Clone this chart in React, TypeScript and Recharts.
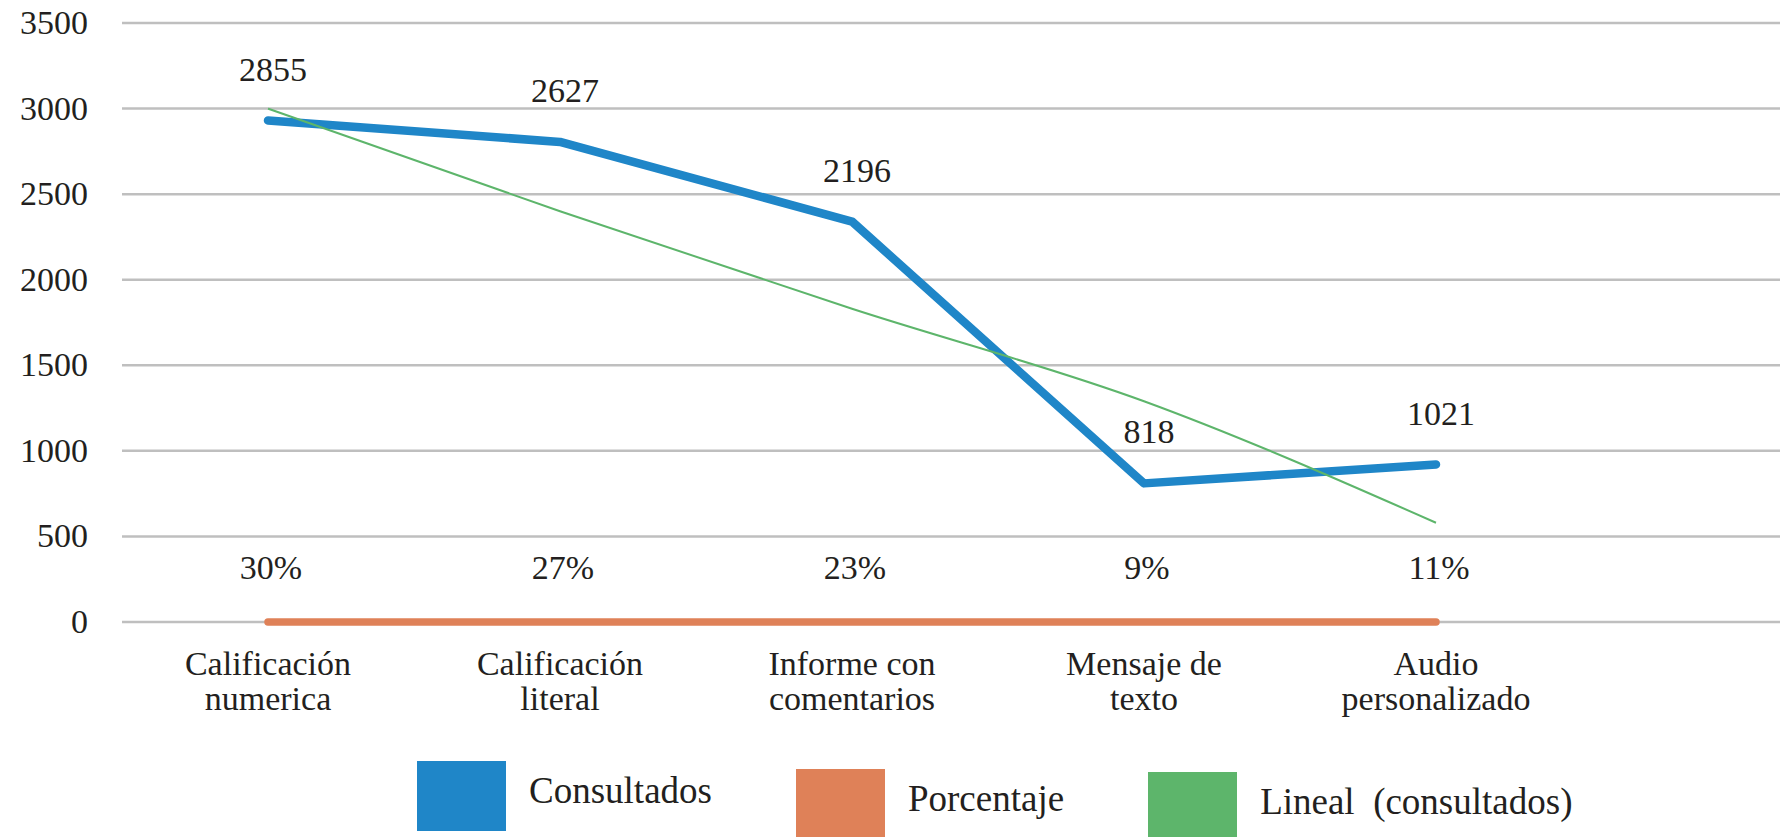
import React from 'react';
import { LineChart, Line, XAxis, YAxis, CartesianGrid, LabelList } from 'recharts';

const categorias = [
  'Calificación\nnumerica',
  'Calificación\nliteral',
  'Informe con\ncomentarios',
  'Mensaje de\ntexto',
  'Audio\npersonalizado',
];
const consultados = [2930, 2805, 2340, 810, 920];
// numbers printed above the blue line
const etiquetasConsultados = [2855, 2627, 2196, 818, 1021];
const porcentaje = [0.3, 0.27, 0.23, 0.09, 0.11];
const lineal = [3000, 2400, 1830, 1290, 580];
const yTicks = [0, 500, 1000, 1500, 2000, 2500, 3000, 3500];

const series = [
  { key: 'consultados', name: 'Consultados', color: '#1f86c8' },
  { key: 'porcentaje', name: 'Porcentaje', color: '#df8158' },
  { key: 'lineal', name: 'Lineal  (consultados)', color: '#5db56b' },
];

const data = categorias.map((c, i) => ({
  categoria: c,
  consultados: consultados[i],
  etiqueta: etiquetasConsultados[i],
  porcentaje: porcentaje[i],
  lineal: lineal[i],
}));

const TEXT = '#231f20';
const FONT = '"Liberation Serif", "Times New Roman", serif';
const textStyle = { fontFamily: FONT, fontSize: 34, fill: TEXT };
const legendShift = [0, 8, 11];

function punto(p: any) {
  if (typeof p.x === 'number' && typeof p.y === 'number') return { x: p.x, y: p.y };
  const vb = p.viewBox || {};
  return { x: (vb.x ?? 0) + (vb.width ?? 0) / 2, y: (vb.y ?? 0) + (vb.height ?? 0) / 2 };
}

function CategoriaTick({ x, y, payload }: any) {
  const lineas = String(payload.value).split('\n');
  return (
    <text x={x} y={y} textAnchor="middle" style={textStyle}>
      {lineas.map((l, i) => (
        <tspan key={i} x={x} dy={i === 0 ? 53 : 35}>
          {l}
        </tspan>
      ))}
    </text>
  );
}

function ValorTick({ x, y, payload }: any) {
  return (
    <text x={x} y={y + 11} textAnchor="end" style={textStyle}>
      {payload.value}
    </text>
  );
}

const etiquetaConsultados = (props: any) => {
  const { x, y } = punto(props);
  return (
    <text x={x + 5} y={y - 40} textAnchor="middle" style={textStyle}>
      {props.value}
    </text>
  );
};

const etiquetaPorcentaje = (props: any) => {
  const { x, y } = punto(props);
  return (
    <text x={x + 3} y={y - 43} textAnchor="middle" style={textStyle}>
      {Math.round(Number(props.value) * 100) + '%'}
    </text>
  );
};

export default function App() {
  return (
    <div
      style={{
        position: 'absolute',
        left: 0,
        top: 0,
        width: 1780,
        height: 837,
        overflow: 'hidden',
        background: '#fff',
        fontFamily: FONT,
        color: TEXT,
      }}
    >
      <LineChart
        width={1780}
        height={837}
        data={data}
        margin={{ top: 23, right: 0, bottom: 105, left: 0 }}
      >
        <CartesianGrid vertical={false} stroke="#bfbfbf" strokeWidth={2.5} />
        <XAxis
          dataKey="categoria"
          height={110}
          interval={0}
          axisLine={false}
          tickLine={false}
          tickSize={0}
          tickMargin={0}
          padding={{ left: 146, right: 344 }}
          tick={<CategoriaTick />}
        />
        <YAxis
          width={122}
          domain={[0, 3500]}
          ticks={yTicks}
          axisLine={false}
          tickLine={false}
          tickSize={0}
          tickMargin={34}
          tick={<ValorTick />}
        />
        <Line
          dataKey="porcentaje"
          stroke={series[1].color}
          strokeWidth={7.5}
          strokeLinecap="round"
          dot={false}
          activeDot={false}
          isAnimationActive={false}
        >
          <LabelList dataKey="porcentaje" content={etiquetaPorcentaje} />
        </Line>
        <Line
          dataKey="consultados"
          stroke={series[0].color}
          strokeWidth={8.5}
          strokeLinecap="round"
          strokeLinejoin="round"
          dot={false}
          activeDot={false}
          isAnimationActive={false}
        >
          <LabelList dataKey="etiqueta" content={etiquetaConsultados} />
        </Line>
        <Line
          type="monotone"
          dataKey="lineal"
          stroke={series[2].color}
          strokeWidth={2}
          dot={false}
          activeDot={false}
          isAnimationActive={false}
        />
      </LineChart>
      <div
        style={{
          position: 'absolute',
          left: 417,
          top: 761,
          display: 'flex',
          alignItems: 'flex-start',
        }}
      >
        {series.map((s, i) => (
          <div
            key={s.key}
            style={{
              display: 'flex',
              alignItems: 'flex-start',
              marginTop: legendShift[i],
              marginRight: 84,
            }}
          >
            <div style={{ width: 89, height: 70, background: s.color }} />
            <span style={{ marginLeft: 23, marginTop: 8, fontSize: 37, whiteSpace: 'pre' }}>
              {s.name}
            </span>
          </div>
        ))}
      </div>
    </div>
  );
}
